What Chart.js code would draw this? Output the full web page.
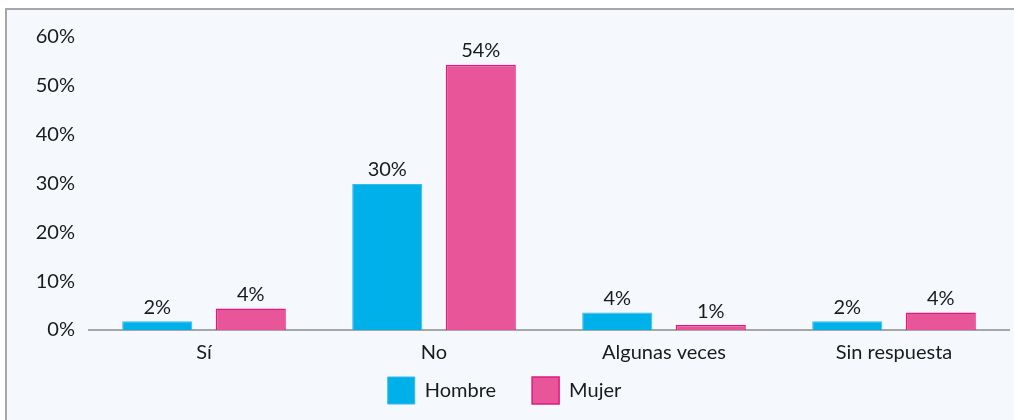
<!DOCTYPE html>
<html>
<head>
<meta charset="utf-8">
<script src="https://cdn.jsdelivr.net/npm/chart.js@4"></script>
<style>
  html, body { margin: 0; padding: 0; background: #ffffff; overflow: hidden; }
  #wrap { position: absolute; left: 0; top: 0; width: 1014px; height: 420px; }
</style>
</head>
<body>
<div id="wrap"><canvas id="chart"></canvas></div>
<script>
// data
const categories = ['Sí', 'No', 'Algunas veces', 'Sin respuesta'];
const hombre = [1.8, 29.9, 3.6, 1.8];
const mujer = [4.4, 54.3, 1.0, 3.6];
const hombreLabels = ['2%', '30%', '4%', '2%'];
const mujerLabels = ['4%', '54%', '1%', '4%'];

const FONT = 'Lato, "Open Sans", sans-serif';

// light panel with a grey edge on the left and top
const panel = {
    id: 'panel',
    beforeDraw(chart) {
        const c = chart.ctx;
        c.save();
        c.fillStyle = '#f5f9fe';
        c.fillRect(6, 8, chart.width - 6, chart.height - 8);
        c.strokeStyle = '#a6a6a6';
        c.lineWidth = 2;
        c.beginPath();
        c.moveTo(6, chart.height);
        c.lineTo(6, 9);
        c.lineTo(chart.width, 9);
        c.stroke();
        c.restore();
    }
};

// legend padding is wide for the item gap, so lift the row back up
const legendLift = {
    id: 'legendLift',
    afterLayout(chart) {
        const lg = chart.legend;
        if (lg) {
            lg.top -= 27;
            lg.height += 27;
        }
    }
};

// values above the bars
const barLabels = {
    id: 'barLabels',
    afterDatasetsDraw(chart) {
        const ctx = chart.ctx;
        const texts = [hombreLabels, mujerLabels];
        ctx.save();
        ctx.font = '20px ' + FONT;
        ctx.fillStyle = '#1a1a1a';
        ctx.textAlign = 'center';
        ctx.textBaseline = 'bottom';
        chart.data.datasets.forEach((ds, i) => {
            chart.getDatasetMeta(i).data.forEach((bar, j) => {
                ctx.fillText(texts[i][j], bar.x, bar.y - 4);
            });
        });
        ctx.restore();
    }
};

const ctx = document.getElementById('chart').getContext('2d');
window.surveyChart = new Chart(ctx, {
    type: 'bar',
    data: {
        labels: categories,
        datasets: [{
            label: 'Hombre',
            data: hombre,
            backgroundColor: '#00b0e8',
            borderColor: '#3ab9ea',
            borderWidth: 1
        }, {
            label: 'Mujer',
            data: mujer,
            backgroundColor: '#e85598',
            borderColor: '#e2187f',
            borderWidth: 1.5
        }]
    },
    options: {
        responsive: true,
        maintainAspectRatio: false,
        animation: false,
        datasets: {
            bar: { categoryPercentage: 0.813, barPercentage: 0.75 }
        },
        layout: { padding: { top: 37, right: 5, left: 0, bottom: 0 } },
        scales: {
            x: {
                grid: { display: false },
                border: { display: true, color: '#a6a6a6', width: 2 },
                ticks: { color: '#1a1a1a', font: { family: FONT, size: 20 }, padding: 3 }
            },
            y: {
                min: 0,
                max: 60,
                afterFit: scale => { scale.width = 89; },
                grid: { display: false, drawTicks: false },
                border: { display: false },
                ticks: {
                    stepSize: 10,
                    padding: 14,
                    color: '#1a1a1a',
                    font: { family: FONT, size: 20 },
                    callback: v => v + '%'
                }
            }
        },
        plugins: {
            legend: {
                position: 'bottom',
                maxHeight: 52,
                labels: {
                    boxWidth: 27,
                    boxHeight: 27,
                    padding: 36,
                    color: '#1a1a1a',
                    font: { family: FONT, size: 20 }
                }
            },
            tooltip: { enabled: false }
        }
    },
    plugins: [panel, legendLift, barLabels]
});
</script>
</body>
</html>
